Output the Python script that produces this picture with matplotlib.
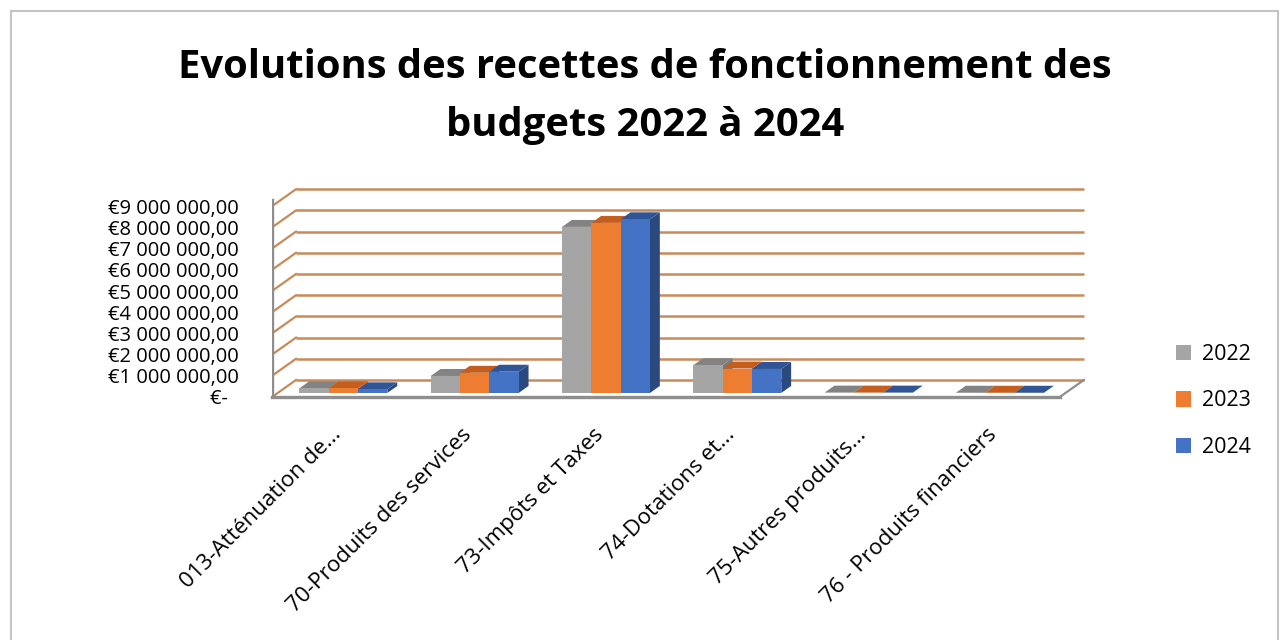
import matplotlib
matplotlib.use("Agg")
import matplotlib.pyplot as plt
from matplotlib.patches import Patch, Polygon, Rectangle

categories = [
    "013-Atténuation de...",
    "70-Produits des services",
    "73-Impôts et Taxes",
    "74-Dotations et...",
    "75-Autres produits...",
    "76 - Produits financiers",
]
years = ["2022", "2023", "2024"]
recettes_2022 = [220_000, 800_000, 7_830_000, 1_310_000, 15_000, 8_000]
recettes_2023 = [220_000, 950_000, 8_020_000, 1_150_000, 15_000, 8_000]
recettes_2024 = [170_000, 1_000_000, 8_190_000, 1_130_000, 15_000, 8_000]
y_ticks = [0, 1_000_000, 2_000_000, 3_000_000, 4_000_000,
           5_000_000, 6_000_000, 7_000_000, 8_000_000, 9_000_000]

series = [recettes_2022, recettes_2023, recettes_2024]
front_colors = ["#A5A5A5", "#ED7D31", "#4472C4"]
top_colors = ["#838383", "#C55E1C", "#2F5597"]
side_colors = ["#7A7A7A", "#B65518", "#29497F"]

GRID = "#C98A5A"
WALL = "#8E8E8E"
FONT = "Open Sans"

W, H = 1280, 640
fig = plt.figure(figsize=(W / 100, H / 100), dpi=100)
fig.patch.set_facecolor("white")

# axes box in pixels; data origin sits on the front-left corner of the floor
ax_left, ax_right, ax_bottom, ax_top = 272, 1090, 397, 180
px_per_cat = 131.3
px_per_euro = 21.2 / 1e6
ax = fig.add_axes([ax_left / W, 1 - ax_bottom / H,
                   (ax_right - ax_left) / W, (ax_bottom - ax_top) / H])
ax.set_xlim(0, (ax_right - ax_left) / px_per_cat)
ax.set_ylim(0, (ax_bottom - ax_top) / px_per_euro)
ax.patch.set_visible(False)
for sp in ax.spines.values():
    sp.set_visible(False)

# oblique depth of the chart walls, in data units
wall_dx = 24 / px_per_cat
wall_dy = 17 / px_per_euro
n = len(categories)

# back wall and left wall gridlines
for v in y_ticks:
    ax.plot([wall_dx, n + wall_dx], [v + wall_dy, v + wall_dy],
            color=GRID, lw=1.8, zorder=1, solid_capstyle="butt")
    ax.plot([0, wall_dx], [v, v + wall_dy], color=GRID, lw=1.6, zorder=1)

# floor edges and the front edge of the left wall
ax.plot([0, 0], [0, y_ticks[-1] + 0.3e6], color=WALL, lw=2.4, zorder=2)
ax.plot([0, n], [0, 0], color=WALL, lw=2.4, zorder=2, clip_on=False)
ax.plot([n, n + wall_dx], [0, wall_dy], color=WALL, lw=1.6, zorder=2)

# 3-D looking columns: front face + top face + right side face
group_w = 0.67
bar_w = group_w / len(series)
f0, f1 = 0.24, 0.65  # depth span of the columns within the wall depth
bdx = (f1 - f0) * wall_dx
bdy = (f1 - f0) * wall_dy
z = 3.0
for i in range(n):
    for j, vals in enumerate(series):
        v = vals[i]
        x0 = i + 0.5 - group_w / 2 + j * bar_w + f0 * wall_dx
        y0 = f0 * wall_dy
        side = [(x0 + bar_w, y0), (x0 + bar_w + bdx, y0 + bdy),
                (x0 + bar_w + bdx, y0 + v + bdy), (x0 + bar_w, y0 + v)]
        top = [(x0, y0 + v), (x0 + bar_w, y0 + v),
               (x0 + bar_w + bdx, y0 + v + bdy), (x0 + bdx, y0 + v + bdy)]
        ax.add_patch(Polygon(side, closed=True, facecolor=side_colors[j],
                             edgecolor="none", zorder=z))
        ax.add_patch(Polygon(top, closed=True, facecolor=top_colors[j],
                             edgecolor="none", zorder=z + 0.01))
        ax.bar(x0, v, width=bar_w, bottom=y0, align="edge",
               color=front_colors[j], edgecolor="none", zorder=z + 0.02)
        z += 0.1


def euro(v):
    if v == 0:
        return "€-  "
    return "€" + f"{v:,.2f}".replace(",", " ").replace(".", ",")


ax.set_yticks(y_ticks)
ax.set_yticklabels([euro(v) for v in y_ticks], fontsize=14.5, family=FONT)
ax.tick_params(axis="y", length=0, pad=24)
for lab in ax.get_yticklabels():
    lab.set_verticalalignment("center_baseline")

ax.set_xticks([i + 0.5 for i in range(n)])
ax.set_xticklabels(categories, fontsize=16, family=FONT)
plt.setp(ax.get_xticklabels(), rotation=45, ha="right", va="center",
         rotation_mode="anchor")
ax.tick_params(axis="x", length=0, pad=25)

fig.text(645 / W, 1 - 78 / H, "Evolutions des recettes de fonctionnement des",
         ha="center", va="baseline", fontsize=28.8, fontweight="bold", family=FONT)
fig.text(645 / W, 1 - 136 / H, "budgets 2022 à 2024",
         ha="center", va="baseline", fontsize=28.8, fontweight="bold", family=FONT)

handles = [Patch(facecolor=c, edgecolor="none") for c in front_colors]
fig.legend(handles, years, loc="center left", bbox_to_anchor=(1176 / W, 1 - 401 / H),
           frameon=False, borderpad=0, borderaxespad=0, handlelength=0.7,
           handleheight=0.7, handletextpad=0.5, labelspacing=1.2,
           prop={"family": FONT, "size": 15.5})

# chart area border
fig.add_artist(Rectangle((11 / W, -0.05), (1278 - 11) / W, 1.05 - 11 / H,
                         transform=fig.transFigure, fill=False,
                         edgecolor="#C4C4C4", lw=1.5))

fig.savefig("out.png", dpi=100)
plt.close(fig)
